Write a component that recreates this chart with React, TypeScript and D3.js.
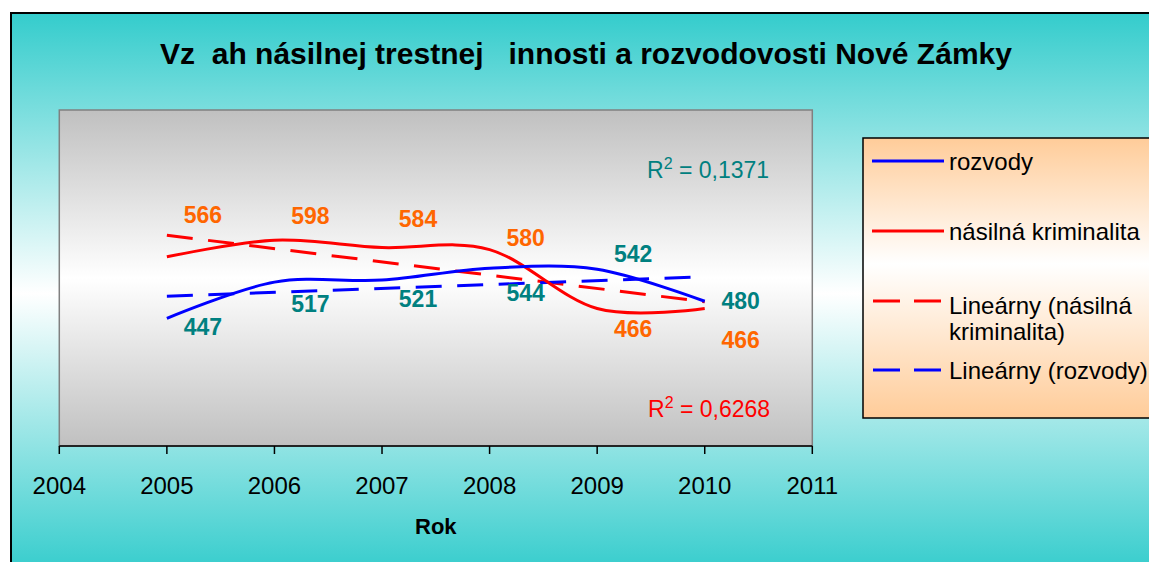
import React from "react";
import * as d3 from "d3";

// data
const years = [2005, 2006, 2007, 2008, 2009, 2010];
const rozvody = [447, 517, 521, 544, 542, 480];
const kriminalita = [566, 598, 584, 580, 466, 466];
const xTicks = [2004, 2005, 2006, 2007, 2008, 2009, 2010, 2011];

// hand-placed data labels in the original (vertical nudge from the point)
const rozvodyLabelDy = [17, 30, 27, 33, -7, 8];
const kriminalitaLabelDy = [-34, -16, -21, -4, 29, 40];

const legendItems = [
  { lines: ["rozvody"], color: "#0000FF", dashed: false },
  { lines: ["násilná kriminalita"], color: "#FF0000", dashed: false },
  { lines: ["Lineárny (násilná", "kriminalita)"], color: "#FF0000", dashed: true },
  { lines: ["Lineárny (rozvody)"], color: "#0000FF", dashed: true },
];

const FONT = '"Liberation Sans", Arial, sans-serif';

// least squares fit, same as Excel's linear trendline
function linearFit(xs: number[], ys: number[]) {
  const mx = d3.mean(xs) as number;
  const my = d3.mean(ys) as number;
  let sxy = 0, sxx = 0, syy = 0;
  xs.forEach((x, i) => {
    sxy += (x - mx) * (ys[i] - my);
    sxx += (x - mx) ** 2;
    syy += (ys[i] - my) ** 2;
  });
  const slope = sxy / sxx;
  return { slope, intercept: my - slope * mx, r2: (sxy * sxy) / (sxx * syy) };
}

const App = () => {
  const width = 1149;
  const height = 562;
  const plot = { left: 59.3, right: 812.3, top: 110, bottom: 446 };

  const x = d3.scaleLinear().domain([2004, 2011]).range([plot.left, plot.right]);
  const y = d3.scaleLinear().domain([200, 850]).range([plot.bottom, plot.top]);

  const smooth = d3
    .line<number>()
    .x((_, i) => x(years[i]))
    .y((d) => y(d))
    .curve(d3.curveCardinal.tension(0));

  const fitR = linearFit(years, kriminalita);
  const fitB = linearFit(years, rozvody);
  const trend = (f: { slope: number; intercept: number }) =>
    d3
      .line<number>()
      .x((d) => x(d))
      .y((d) => y(f.intercept + f.slope * d))([years[0], years[years.length - 1]]) as string;

  const fmtR2 = (v: number) => v.toFixed(4).replace(".", ",");

  const labelDx = 36;

  return (
    <svg
      width={width}
      height={height}
      style={{ position: "absolute", left: 0, top: 0, display: "block" }}
      fontFamily={FONT}
    >
      <defs>
        <linearGradient id="chartBg" x1="0" y1="12" x2="0" y2="575" gradientUnits="userSpaceOnUse">
          <stop offset="0" stopColor="#33CCCC" />
          <stop offset="0.5" stopColor="#FFFFFF" />
          <stop offset="1" stopColor="#33CCCC" />
        </linearGradient>
        <linearGradient id="plotBg" x1="0" y1={plot.top} x2="0" y2={plot.bottom} gradientUnits="userSpaceOnUse">
          <stop offset="0" stopColor="#C0C0C0" />
          <stop offset="0.5" stopColor="#FFFFFF" />
          <stop offset="1" stopColor="#C0C0C0" />
        </linearGradient>
        <linearGradient id="legendBg" x1="0" y1="138" x2="0" y2="418" gradientUnits="userSpaceOnUse">
          <stop offset="0" stopColor="#FFCC99" />
          <stop offset="0.45" stopColor="#FFFFFF" />
          <stop offset="1" stopColor="#FFCC99" />
        </linearGradient>
      </defs>

      <rect x={0} y={0} width={width} height={height} fill="#FFFFFF" />
      {/* chart area */}
      <rect x={11} y={13} width={width + 20} height={height + 20} fill="url(#chartBg)" stroke="#000" strokeWidth={2} />

      <text
        x={586}
        y={64}
        textAnchor="middle"
        fontSize={30}
        fontWeight="bold"
        fill="#000"
        style={{ whiteSpace: "pre" }}
      >
        {"Vz\u00a0\u00a0ah násilnej trestnej\u00a0\u00a0\u00a0innosti a rozvodovosti Nové Zámky"}
      </text>

      {/* plot area */}
      <rect
        x={plot.left}
        y={plot.top}
        width={plot.right - plot.left}
        height={plot.bottom - plot.top}
        fill="url(#plotBg)"
        stroke="#808080"
        strokeWidth={1.5}
      />

      {/* x axis */}
      <line x1={plot.left} x2={plot.right} y1={plot.bottom} y2={plot.bottom} stroke="#000" strokeWidth={1.5} />
      {xTicks.map((t) => (
        <g key={t}>
          <line x1={x(t)} x2={x(t)} y1={plot.bottom} y2={plot.bottom + 8} stroke="#000" strokeWidth={1.5} />
          <text x={x(t)} y={493.5} textAnchor="middle" fontSize={24} fill="#000">
            {t}
          </text>
        </g>
      ))}
      <text x={(plot.left + plot.right) / 2} y={534} textAnchor="middle" fontSize={22} fontWeight="bold" fill="#000">
        Rok
      </text>

      {/* trendlines */}
      <path d={trend(fitR)} fill="none" stroke="#FF0000" strokeWidth={3} strokeDasharray="26,15.5" />
      <path d={trend(fitB)} fill="none" stroke="#0000FF" strokeWidth={3} strokeDasharray="26,15.5" />

      {/* series */}
      <path d={smooth(kriminalita) as string} fill="none" stroke="#FF0000" strokeWidth={3} />
      <path d={smooth(rozvody) as string} fill="none" stroke="#0000FF" strokeWidth={3} />

      {/* data labels */}
      {kriminalita.map((v, i) => (
        <text
          key={"k" + i}
          x={x(years[i]) + labelDx}
          y={y(v) + kriminalitaLabelDy[i]}
          textAnchor="middle"
          fontSize={23}
          fontWeight="bold"
          fill="#FF6600"
        >
          {v}
        </text>
      ))}
      {rozvody.map((v, i) => (
        <text
          key={"r" + i}
          x={x(years[i]) + labelDx}
          y={y(v) + rozvodyLabelDy[i]}
          textAnchor="middle"
          fontSize={23}
          fontWeight="bold"
          fill="#008080"
        >
          {v}
        </text>
      ))}

      {/* R squared */}
      <text x={647} y={178} fontSize={23} fill="#008080">
        <tspan>R</tspan>
        <tspan dy={-9} fontSize={16}>2</tspan>
        <tspan dy={9}>{" = " + fmtR2(fitB.r2)}</tspan>
      </text>
      <text x={648} y={417} fontSize={23} fill="#FF0000">
        <tspan>R</tspan>
        <tspan dy={-9} fontSize={16}>2</tspan>
        <tspan dy={9}>{" = " + fmtR2(fitR.r2)}</tspan>
      </text>

      {/* legend */}
      <rect x={863} y={138} width={320} height={280} fill="url(#legendBg)" stroke="#000" strokeWidth={1.5} />
      {legendItems.map((item, i) => {
        const ly = [161, 231, 301, 370][i];
        return (
          <g key={i}>
            <line
              x1={item.dashed ? 873 : 872}
              x2={item.dashed ? 941 : 944}
              y1={ly}
              y2={ly}
              stroke={item.color}
              strokeWidth={3}
              strokeDasharray={item.dashed ? "27,14" : undefined}
            />
            {item.lines.map((t, j) => (
              <text key={j} x={949} y={ly + (item.lines.length > 1 ? 13 : 8.5) + j * 26} fontSize={24} fill="#000">
                {t}
              </text>
            ))}
          </g>
        );
      })}
    </svg>
  );
};

export default App;
